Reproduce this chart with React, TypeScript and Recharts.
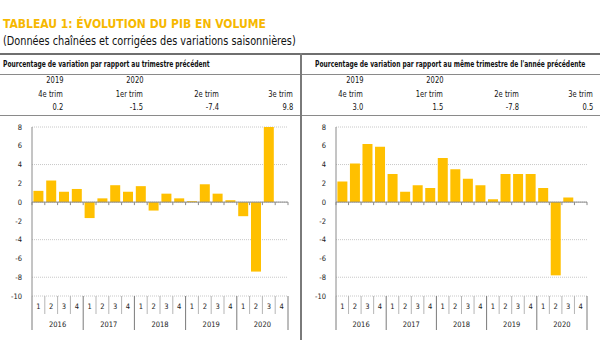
import React from "react";
import { BarChart, Bar, XAxis, YAxis, CartesianGrid, ReferenceLine } from "recharts";

const years = ["2016", "2017", "2018", "2019", "2020"];
const quarterLabels = ["1", "2", "3", "4"];
const qoqValues = [1.2, 2.3, 1.1, 1.4, -1.7, 0.4, 1.8, 1.1, 1.7, -0.9, 0.9, 0.4, 0.1, 1.9, 0.9, 0.2, -1.5, -7.4, 9.8, null];
const yoyValues = [2.2, 4.1, 6.2, 5.9, 3.0, 1.1, 1.8, 1.5, 4.7, 3.5, 2.5, 1.8, 0.3, 3.0, 3.0, 3.0, 1.5, -7.8, 0.5, null];
const yTicks = [-10, -8, -6, -4, -2, 0, 2, 4, 6, 8];

const tableYears = ["2019", "2020", "", ""];
const tablePeriods = ["4e trim", "1er trim", "2e trim", "3e trim"];
const qoqLatest = ["0.2", "-1.5", "-7.4", "9.8"];
const yoyLatest = ["3.0", "1.5", "-7.8", "0.5"];

const FONT = '"Liberation Sans Narrow", "DejaVu Sans Condensed", "Liberation Sans", sans-serif';
const YELLOW = "#FFC000";

const makeRows = (values: (number | null)[]) =>
  years.flatMap((y, yi) =>
    quarterLabels.map((q, qi) => ({ year: y, q, key: `${y}-${q}`, value: values[yi * 4 + qi] }))
  );

const QuarterTick = (props: any) => {
  const { x, y, payload, index, visibleTicksCount } = props;
  const n = visibleTicksCount || 20;
  const half = payload && payload.offset ? payload.offset : props.width / n / 2;
  const row = index % 4;
  const yearIdx = Math.floor(index / 4);
  return (
    <g>
      <line x1={x - half} x2={x - half} y1={y} y2={row === 0 ? y + 34 : y + 18}
        stroke={row === 0 ? "#7a7a7a" : "#b5b5b5"} strokeWidth={1} />
      {index === n - 1 && (
        <line x1={x + half} x2={x + half} y1={y} y2={y + 34} stroke="#7a7a7a" />
      )}
      <text x={x} y={y + 13} textAnchor="middle" fontSize={7.5} fill="#222" fontFamily={FONT}>
        {quarterLabels[row]}
      </text>
      {row === 1 && (
        <text x={x + half} y={y + 31} textAnchor="middle" fontSize={7.5} fill="#222" fontFamily={FONT}>
          {years[yearIdx]}
        </text>
      )}
    </g>
  );
};

const ZeroAxis = (props: any) => {
  const { x1, x2, y1 } = props;
  const n = 20;
  const step = (x2 - x1) / n;
  const marks = [];
  for (let i = 0; i <= n; i++) {
    marks.push(<line key={i} x1={x1 + i * step} x2={x1 + i * step} y1={y1} y2={y1 + 3} stroke="#8a8a8a" />);
  }
  return (
    <g>
      <line x1={x1} x2={x2} y1={y1} y2={y1} stroke="#8a8a8a" strokeWidth={1} />
      {marks}
    </g>
  );
};

const Panel = ({ values, yWidth, marginRight }: any) => (
  <BarChart
    width={300}
    height={221}
    data={makeRows(values)}
    margin={{ top: 12, right: marginRight, bottom: 0, left: 8 }}
    barCategoryGap="11%"
  >
    <CartesianGrid vertical={false} stroke="#c8c8c8" strokeDasharray="1 1" />
    <XAxis dataKey="key" interval={0} axisLine={false} tickLine={false} tickSize={0} tickMargin={0}
      height={40} tick={<QuarterTick />} />
    <YAxis domain={[-10, 8]} ticks={yTicks} allowDataOverflow width={yWidth} tickLine={false}
      axisLine={{ stroke: "#8a8a8a" }} tickMargin={4}
      tick={{ fontSize: 7.5, fill: "#222", fontFamily: FONT }} />
    <ReferenceLine y={0} shape={<ZeroAxis />} />
    <Bar dataKey="value" fill={YELLOW} isAnimationActive={false} />
  </BarChart>
);

const cell = (r: number, top: number): React.CSSProperties => ({
  position: "absolute", right: 300 - r, top, fontSize: 8.5, whiteSpace: "nowrap",
  transform: "scaleX(0.88)", transformOrigin: "right center",
});

const Table = ({ latest, title, left }: any) => (
  <div style={{ position: "absolute", left, top: 54, width: 300, height: 62 }}>
    <div style={{ position: "absolute", left: left === 0 ? 3 : 15, top: 6, fontSize: 8, fontWeight: "bold", whiteSpace: "nowrap", transform: "scaleX(0.83)", transformOrigin: "left center" }}>
      {title}
    </div>
    {[63, 143, 219, 293].map((r, i) => (
      <React.Fragment key={i}>
        <div style={cell(r, 21)}>{tableYears[i]}</div>
        <div style={cell(r, 35)}>{tablePeriods[i]}</div>
        <div style={cell(r, 48)}>{latest[i]}</div>
      </React.Fragment>
    ))}
  </div>
);

export default function App() {
  return (
    <div style={{ position: "absolute", left: 0, top: 0, width: 600, height: 359, background: "#fff", fontFamily: FONT, color: "#111", overflow: "hidden" }}>
      <div style={{ position: "absolute", left: 3, top: 17, fontSize: 12, fontWeight: "bold", color: "#F6B800", whiteSpace: "nowrap" }}>
        TABLEAU 1: ÉVOLUTION DU PIB EN VOLUME
      </div>
      <div style={{ position: "absolute", left: 3, top: 34, fontSize: 12, whiteSpace: "nowrap", transform: "scaleX(0.9)", transformOrigin: "left center" }}>
        (Données chaînées et corrigées des variations saisonnières)
      </div>
      <div style={{ position: "absolute", left: 0, top: 53, width: 600, height: 2, background: "#6f6f6f" }} />
      <div style={{ position: "absolute", left: 0, top: 74, width: 600, height: 1, background: "#8a8a8a" }} />
      <div style={{ position: "absolute", left: 0, top: 115, width: 600, height: 1, background: "#8a8a8a" }} />
      <div style={{ position: "absolute", left: 300, top: 53, width: 2, height: 287, background: "#7a7a7a" }} />
      <Table latest={qoqLatest} left={0} title="Pourcentage de variation par rapport au trimestre précédent" />
      <Table latest={yoyLatest} left={300} title="Pourcentage de variation par rapport au même trimestre de l'année précédente" />
      <div style={{ position: "absolute", left: 0, top: 115 }}>
        <Panel values={qoqValues} yWidth={24} marginRight={12} />
      </div>
      <div style={{ position: "absolute", left: 300, top: 115 }}>
        <Panel values={yoyValues} yWidth={28} marginRight={13} />
      </div>
    </div>
  );
}
